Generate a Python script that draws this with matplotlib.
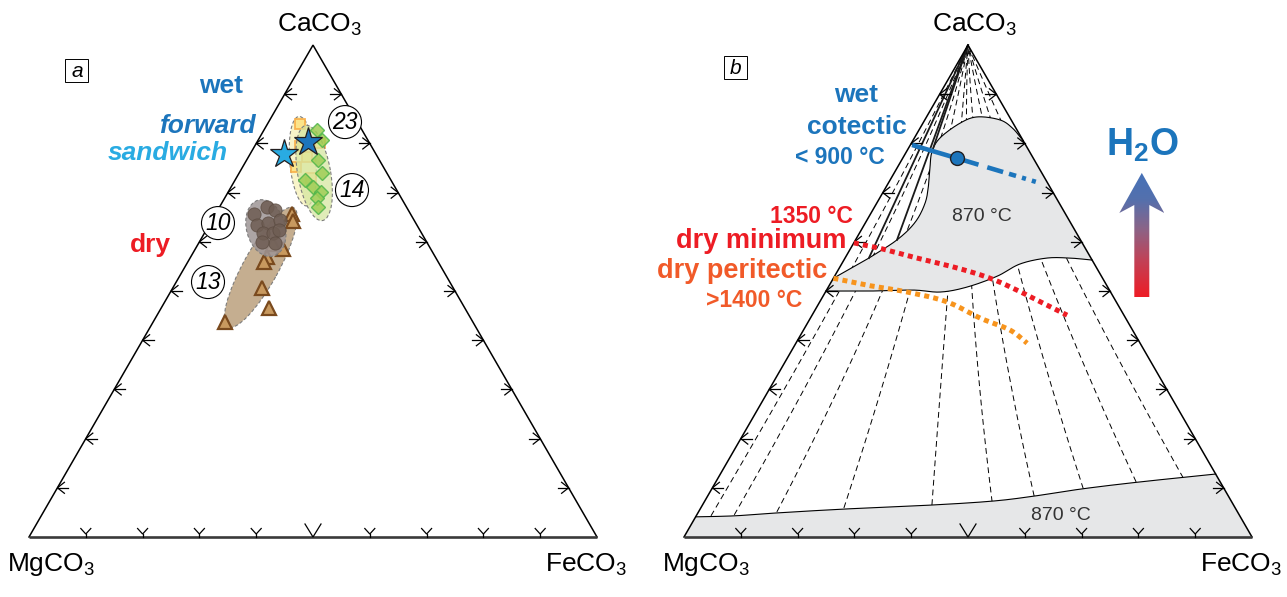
import numpy as np
import matplotlib
matplotlib.use('Agg')
import matplotlib.pyplot as plt
from matplotlib.patches import Ellipse, Polygon, Circle, Rectangle
from matplotlib.colors import LinearSegmentedColormap

plt.rcParams['font.family'] = ['Liberation Sans', 'DejaVu Sans']
plt.rcParams['mathtext.fontset'] = 'custom'
plt.rcParams['mathtext.rm'] = 'Liberation Sans'
plt.rcParams['mathtext.it'] = 'Liberation Sans:italic'
plt.rcParams['mathtext.bf'] = 'Liberation Sans:bold'

S3 = np.sqrt(3) / 2
PX = 1 / 568.0  # one pixel in diagram units

# ---------------- data (mole fractions: CaCO3, FeCO3) ----------------
vertex_labels = ['MgCO$_3$', 'FeCO$_3$', 'CaCO$_3$']
tick_vals = [0.1, 0.2, 0.3, 0.4, 0.5, 0.6, 0.7, 0.8, 0.9]

# panel a
tri_ca = [0.657, 0.642, 0.596, 0.585, 0.569, 0.559, 0.506, 0.465, 0.437]
tri_fe = [0.135, 0.144, 0.132, 0.154, 0.134, 0.135, 0.157, 0.190, 0.127]
circ_ca = [0.657, 0.671, 0.665, 0.634, 0.638, 0.644, 0.618, 0.618, 0.624, 0.598, 0.600]
circ_fe = [0.068, 0.084, 0.101, 0.084, 0.102, 0.120, 0.103, 0.121, 0.128, 0.134, 0.110]
sq_ca = [0.839, 0.752, 0.772, 0.730, 0.801, 0.795]
sq_fe = [0.058, 0.094, 0.103, 0.131, 0.112, 0.080]
dia_ca = [0.827, 0.766, 0.740, 0.711, 0.701, 0.689, 0.671, 0.726, 0.807]
dia_fe = [0.093, 0.126, 0.146, 0.144, 0.163, 0.162, 0.174, 0.123, 0.113]
star_ca = [0.778, 0.803]
star_fe = [0.060, 0.090]
star_colors = ['#29abe2', '#1c75bc']

# fields (ellipses): tan(triangles), gray(circles), yellow(squares), green(diamonds)
ell_ca = [0.548, 0.628, 0.764, 0.740]
ell_fe = [0.134, 0.103, 0.100, 0.132]
ell_major = [0.240, 0.102, 0.158, 0.170]
ell_minor = [0.062, 0.068, 0.046, 0.058]
ell_angle = [61, 105, 95, 100]
ell_colors = ['#c2aa8a', '#9e9596', '#f8f3c4', '#d6e6a0']
ell_alpha = [0.95, 0.85, 0.9, 0.75]

num_labels = ['23', '14', '10', '13']
num_ca = [0.8435, 0.7053, 0.6382, 0.5183]
num_fe = [0.1346, 0.216, 0.0136, 0.056]

# panel b
g1_low_ca = [0.500, 0.500, 0.502, 0.498, 0.508, 0.530, 0.555, 0.567, 0.567, 0.563]
g1_low_fe = [0.000, 0.077, 0.152, 0.202, 0.244, 0.286, 0.314, 0.355, 0.396, 0.437]
g1_top_ca = [0.805, 0.831, 0.848, 0.854, 0.841, 0.811, 0.783, 0.750, 0.715, 0.679, 0.640, 0.604, 0.567]
g1_top_fe = [0.195, 0.163, 0.132, 0.089, 0.065, 0.045, 0.045, 0.058, 0.073, 0.085, 0.087, 0.073, 0.042]
g1_wedge_ca = 0.526

g2_ca = [0.041, 0.043, 0.049, 0.057, 0.065, 0.073, 0.083, 0.098, 0.112, 0.128]
g2_fe = [0.000, 0.067, 0.140, 0.257, 0.404, 0.507, 0.574, 0.653, 0.747, 0.872]

tie_bot_ca = [0.043, 0.045, 0.051, 0.059, 0.065, 0.071, 0.083, 0.098, 0.112, 0.120]
tie_bot_fe = [0.026, 0.066, 0.138, 0.252, 0.404, 0.507, 0.575, 0.654, 0.740, 0.819]
tie_ctl_ca = [0.60] * 10
tie_ctl_fe = [0.031, 0.063, 0.112, 0.135, 0.170, 0.186, 0.216, 0.263, 0.300, 0.346]

solid_ca = [0.567, 0.604, 0.783]
solid_fe = [0.042, 0.073, 0.045]

wet_ca = [0.797, 0.770, 0.7195]
wet_fe = [0.003, 0.0956, 0.267]

dmin_ca = [0.598, 0.587, 0.569, 0.547, 0.526, 0.502, 0.4715, 0.451]
dmin_fe = [0.000, 0.051, 0.119, 0.207, 0.276, 0.335, 0.403, 0.449]

dper_ca = [0.526, 0.512, 0.498, 0.478, 0.445, 0.421, 0.394]
dper_fe = [0.000, 0.066, 0.144, 0.224, 0.299, 0.363, 0.407]

BLUE = '#1c75bc'
LBLUE = '#29abe2'
RED = '#ed1c24'
ORANGE = '#f7941d'
ORTXT = '#f15a29'
GRAYF = '#e6e7e8'


def tern(ca, fe):
    ca = np.asarray(ca, float)
    fe = np.asarray(fe, float)
    return fe + ca / 2, ca * S3


def smooth(xs, ys, n=24):
    P = np.column_stack([xs, ys])
    P = np.vstack([2 * P[0] - P[1], P, 2 * P[-1] - P[-2]])
    out = []
    t = np.linspace(0, 1, n, endpoint=False)[:, None]
    for i in range(1, len(P) - 2):
        p0, p1, p2, p3 = P[i - 1], P[i], P[i + 1], P[i + 2]
        seg = 0.5 * ((2 * p1) + (-p0 + p2) * t + (2 * p0 - 5 * p1 + 4 * p2 - p3) * t ** 2
                     + (-p0 + 3 * p1 - 3 * p2 + p3) * t ** 3)
        out.append(seg)
    out.append(P[-2][None, :])
    return np.vstack(out)


def qbez(p0, p1, p2, n=80):
    t = np.linspace(0, 1, n)[:, None]
    return (1 - t) ** 2 * p0 + 2 * t * (1 - t) * p1 + t ** 2 * p2


def draw_frame(ax):
    ax.plot([0, 0.5, 1], [0, S3, 0], color='k', lw=1.1, solid_joinstyle='miter', zorder=6)
    ax.plot([0, 1], [0, 0], color='#3a3a3a', lw=1.9, solid_capstyle='butt', zorder=6)
    kw = dict(color='k', lw=0.9, zorder=6, solid_joinstyle='miter')
    for v in tick_vals:
        x, y = tern(v, 0)
        ax.plot([x, x + 11 * PX], [y, y], **kw)
        ax.plot([x + 7 * PX, x, x + 7 * PX], [y + 5.5 * PX, y, y - 5.5 * PX], **kw)
        x, y = tern(v, 1 - v)
        ax.plot([x - 11 * PX, x], [y, y], **kw)
        ax.plot([x - 7 * PX, x, x - 7 * PX], [y + 5.5 * PX, y, y - 5.5 * PX], **kw)
        x, y = tern(0, v)
        if abs(v - 0.5) < 1e-9:
            ax.plot([x - 8 * PX, x, x + 8 * PX], [13 * PX, 0, 13 * PX], **kw)
        else:
            ax.plot([x, x], [0, 3 * PX], **kw)
            ax.plot([x - 5 * PX, x, x + 5 * PX], [8.5 * PX, 3 * PX, 8.5 * PX], **kw)
    fs = 19
    ax.text(22 * PX, -28 * PX, vertex_labels[0], fontsize=fs, ha='center', va='center')
    ax.text(1 - 11 * PX, -28 * PX, vertex_labels[1], fontsize=fs, ha='center', va='center')
    ax.text(0.5 + 7 * PX, S3 + 20 * PX, vertex_labels[2], fontsize=fs, ha='center', va='center')


def box_label(ax, x, y, s):
    w = 23 * PX
    ax.add_patch(Rectangle((x - w / 2, y - w / 2), w, w, fill=False, ec='k', lw=0.7, zorder=8))
    ax.text(x, y - 1 * PX, s, fontsize=15, style='italic', ha='center', va='center', zorder=9)


fig = plt.figure(figsize=(12.87, 5.97), dpi=100)

# ================= panel a =================
axa = fig.add_axes([0, 0, 643 / 1287, 1])
axa.set_xlim(-29 / 568, 614 / 568)
axa.set_ylim(-60 / 568, 537 / 568)
axa.axis('off')
draw_frame(axa)

for i in range(4):
    cx, cy = tern(ell_ca[i], ell_fe[i])
    axa.add_patch(Ellipse((cx, cy), ell_major[i], ell_minor[i], angle=ell_angle[i],
                          fc=ell_colors[i], alpha=ell_alpha[i], ec='none', zorder=2 + i))
    axa.add_patch(Ellipse((cx, cy), ell_major[i], ell_minor[i], angle=ell_angle[i],
                          fill=False, ec='#7d7d7d', lw=0.8, ls=(0, (3, 2)), zorder=2 + i))

x, y = tern(tri_ca, tri_fe)
axa.plot(x, y, ls='none', marker='^', ms=9.5, mfc='#c8995f', mec='#7a4a1e', mew=1.6, zorder=2.5)
x, y = tern(circ_ca, circ_fe)
axa.plot(x, y, ls='none', marker='o', ms=9.5, mfc='#6e5d53', mec='#5c4c42', mew=0.6, alpha=0.85, zorder=3.5)
x, y = tern(sq_ca, sq_fe)
axa.plot(x, y, ls='none', marker='s', ms=7.5, mfc='#fde383', mec='#f8ad46', mew=1.3, alpha=0.9, zorder=4.5)
x, y = tern(dia_ca, dia_fe)
axa.plot(x, y, ls='none', marker='D', ms=7, mfc='#9fcd55', mec='#4fb64a', mew=1.0, alpha=0.85, zorder=5.5)
x, y = tern(star_ca, star_fe)
for xi, yi, c in zip(x, y, star_colors):
    axa.plot([xi], [yi], ls='none', marker='*', ms=21, mfc=c, mec='#231f20', mew=0.9, zorder=7)

for s, ca, fe in zip(num_labels, num_ca, num_fe):
    cx, cy = tern(ca, fe)
    axa.add_patch(Circle((cx, cy), 16.5 * PX, fc='white', ec='k', lw=0.8, zorder=8))
    axa.text(cx, cy, s, fontsize=16.5, style='italic', ha='center', va='center', zorder=9)

axa.text(0.338, 0.794, 'wet', color=BLUE, fontsize=19, fontweight='bold', ha='center', va='center')
axa.text(0.3134, 0.7236, 'forward', color=BLUE, fontsize=19, fontweight='bold', style='italic',
         ha='center', va='center')
axa.text(0.2447, 0.676, 'sandwich', color=LBLUE, fontsize=19, fontweight='bold', style='italic',
         ha='center', va='center')
axa.text(0.213, 0.514, 'dry', color=RED, fontsize=19, fontweight='bold', ha='center', va='center')
box_label(axa, 0.0845, 0.822, 'a')

# ================= panel b =================
axb = fig.add_axes([643 / 1287, 0, 644 / 1287, 1])
axb.set_xlim(-41 / 568, 603 / 568)
axb.set_ylim(-60 / 568, 537 / 568)
axb.axis('off')

apex = np.array([0.5, S3])
for bca, bfe, cca, cfe in zip(tie_bot_ca, tie_bot_fe, tie_ctl_ca, tie_ctl_fe):
    p0 = np.array(tern(bca, bfe))
    p1 = np.array(tern(cca, cfe))
    c = qbez(p0, p1, apex)
    axb.plot(c[:, 0], c[:, 1], color='k', lw=0.7, ls=(0, (6, 4)), zorder=1)

# gray field 1
lowx, lowy = tern(g1_low_ca, g1_low_fe)
low = smooth(lowx, lowy)
topx, topy = tern(g1_top_ca, g1_top_fe)
top = smooth(topx, topy)
wedge = np.array(tern(g1_wedge_ca, 0.0))[None, :]
poly1 = np.vstack([low, top, wedge])
axb.add_patch(Polygon(poly1, closed=True, fc=GRAYF, ec='none', zorder=2))
axb.plot(low[:, 0], low[:, 1], color='k', lw=0.8, zorder=3)
tw = np.vstack([top, wedge])
axb.plot(tw[:, 0], tw[:, 1], color='k', lw=0.8, zorder=3)

# gray field 2
g2x, g2y = tern(g2_ca, g2_fe)
g2 = smooth(g2x, g2y)
poly2 = np.vstack([g2, [tern(0, 1)], [tern(0, 0)]])
axb.add_patch(Polygon(poly2, closed=True, fc=GRAYF, ec='none', zorder=2))
axb.plot(g2[:, 0], g2[:, 1], color='k', lw=0.8, zorder=3)

# solid lines from the CaCO3 apex
for ca, fe in zip(solid_ca, solid_fe):
    ex, ey = tern(ca, fe)
    axb.plot([apex[0], ex], [apex[1], ey], color='#1a1a1a', lw=1.3, zorder=4)

draw_frame(axb)

# wet cotectic
wx, wy = tern(wet_ca, wet_fe)
axb.plot(wx[:2], wy[:2], color=BLUE, lw=3.3, solid_capstyle='butt', zorder=7)
ln, = axb.plot(wx[1:], wy[1:], color=BLUE, lw=3.3, dash_capstyle='butt', zorder=7)
ln.set_dashes([4.9, 2.0, 3.6, 1.35, 1.6, 1.35, 0.9, 1.35, 0.9, 4.0])
axb.plot([wx[1]], [wy[1]], ls='none', marker='o', ms=10, mfc=BLUE, mec='#231f20', mew=1.0, zorder=8)

# dry minimum / dry peritectic
c = smooth(*tern(dmin_ca, dmin_fe))
axb.plot(c[:, 0], c[:, 1], color=RED, lw=3.6, ls=(0, (1, 0.85)), dash_capstyle='butt', zorder=7)
c = smooth(*tern(dper_ca, dper_fe))
axb.plot(c[:, 0], c[:, 1], color=ORANGE, lw=3.6, ls=(0, (1, 0.85)), dash_capstyle='butt', zorder=7)

# texts
axb.text(0.3028, 0.778, 'wet', color=BLUE, fontsize=19, fontweight='bold', ha='center', va='center')
axb.text(0.3046, 0.7218, 'cotectic', color=BLUE, fontsize=19, fontweight='bold', ha='center', va='center')
axb.text(0.2746, 0.669, '< 900 °C', color=BLUE, fontsize=16.5, fontweight='bold', ha='center', va='center')
axb.text(0.2236, 0.565, '1350 °C', color=RED, fontsize=16.5, fontweight='bold', ha='center', va='center')
axb.text(0.1356, 0.521, 'dry minimum', color=RED, fontsize=19.5, fontweight='bold', ha='center', va='center')
axb.text(0.102, 0.468, 'dry peritectic', color=ORTXT, fontsize=19.5, fontweight='bold', ha='center', va='center')
axb.text(0.123, 0.417, '>1400 °C', color=ORTXT, fontsize=16.5, fontweight='bold', ha='center', va='center')
axb.text(0.5246, 0.5634, '870 °C', color='#333333', fontsize=14, ha='center', va='center', zorder=9)
axb.text(0.6637, 0.0387, '870 °C', color='#333333', fontsize=14, ha='center', va='center', zorder=9)
axb.text(0.806, 0.690, r'$\mathbf{H_2O}$', color=BLUE, fontsize=27, ha='center', va='center')
box_label(axb, 0.0915, 0.827, 'b')

# H2O gradient arrow
arr_cx, arr_top, arr_bot = 0.806, 0.641, 0.4225
head_base, shaft_join, head_half, shaft_half = 0.5704, 0.5845, 0.0396, 0.0132
arrow_pts = [(arr_cx, arr_top), (arr_cx + head_half, head_base), (arr_cx + shaft_half, shaft_join),
             (arr_cx + shaft_half, arr_bot), (arr_cx - shaft_half, arr_bot),
             (arr_cx - shaft_half, shaft_join), (arr_cx - head_half, head_base)]
arrow_poly = Polygon(arrow_pts, closed=True, fc='none', ec='none')
axb.add_patch(arrow_poly)
cmap = LinearSegmentedColormap.from_list('h2o', [(0, '#ee1c25'), (0.3, '#c04358'), (0.55, '#8a6488'),
                                                 (0.78, '#5470ad'), (1, '#4672b8')])
grad = np.linspace(0, 1, 256)[:, None]
im = axb.imshow(grad, cmap=cmap, origin='lower', aspect='auto',
                extent=[arr_cx - head_half, arr_cx + head_half, arr_bot, arr_top], zorder=5)
im.set_clip_path(arrow_poly)
axb.set_xlim(-41 / 568, 603 / 568)
axb.set_ylim(-60 / 568, 537 / 568)

fig.savefig('out.png', dpi=100)
